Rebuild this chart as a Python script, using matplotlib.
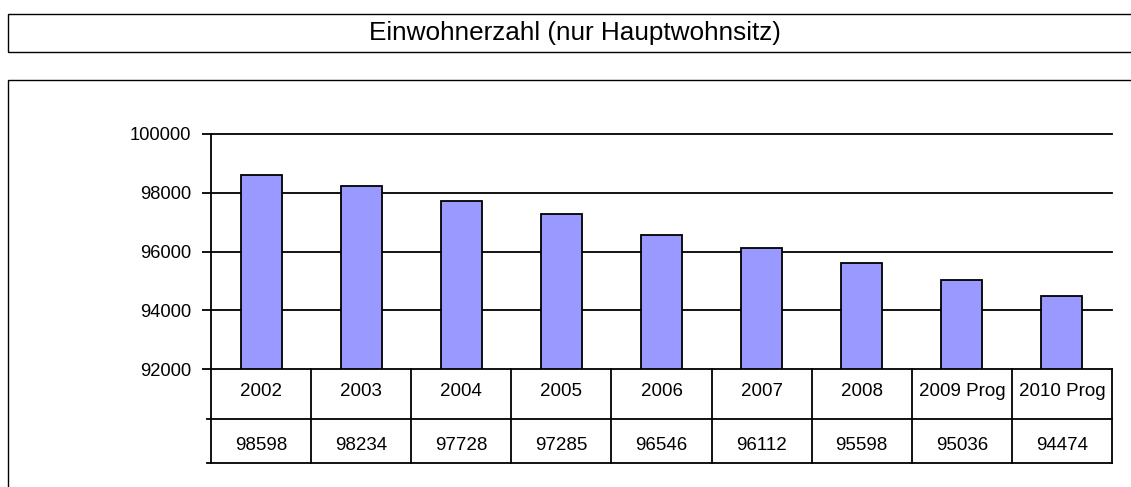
import matplotlib
matplotlib.use("Agg")
import matplotlib.pyplot as plt
from matplotlib.patches import Rectangle

plt.rcParams["font.family"] = ["Liberation Sans", "DejaVu Sans"]

# data
years = ["2002", "2003", "2004", "2005", "2006", "2007", "2008",
         "2009 Prog", "2010 Prog"]
einwohner = [98598, 98234, 97728, 97285, 96546, 96112, 95598, 95036, 94474]
yticks = [92000, 94000, 96000, 98000, 100000]
title = "Einwohnerzahl (nur Hauptwohnsitz)"

W, H = 1131, 487
fig = plt.figure(figsize=(W / 100, H / 100), dpi=100)

# frames (title box + chart box), right/bottom edges run off the picture
fig.add_artist(Rectangle((8 / W, 1 - 52 / H), 1.2, 38 / H, transform=fig.transFigure,
                         fill=False, ec="black", lw=1.0))
fig.add_artist(Rectangle((8 / W, -0.2), 1.2, 1 - 80 / H + 0.2, transform=fig.transFigure,
                         fill=False, ec="black", lw=1.0))
fig.text(575 / W, 1 - 33 / H, title, ha="center", va="center", fontsize=18.8)

# bar chart
left, right = 211 / W, 1112 / W
ax = fig.add_axes([left, 1 - 369 / H, right - left, (369 - 134) / H])
x = range(len(years))
ax.bar(x, [v - yticks[0] for v in einwohner], bottom=yticks[0], width=0.41,
       color="#9999FF", edgecolor="black", linewidth=1.3, zorder=3)
ax.set_xlim(-0.5, len(years) - 0.5)
ax.set_ylim(yticks[0], yticks[-1])
ax.set_yticks(yticks)
ax.set_yticklabels([str(t) for t in yticks])
ax.set_xticks([])
for t in yticks[1:]:
    ax.axhline(t, color="black", lw=1.3, zorder=1, clip_on=False)
for s in ["top", "right"]:
    ax.spines[s].set_visible(False)
ax.spines["left"].set_linewidth(1.3)
ax.spines["bottom"].set_linewidth(1.3)
ax.tick_params(axis="y", length=6.5, width=1.3, pad=8.0, labelsize=13.2)

# data table below
axt = fig.add_axes([left, 1 - 463 / H, right - left, 94 / H])
axt.set_xlim(-0.5, len(years) - 0.5)
axt.set_ylim(94, 0)
axt.axis("off")
n = len(years)
for yy in [50, 94]:
    axt.plot([-0.54, n - 0.5], [yy, yy], color="black", lw=1.3, clip_on=False)
for i in range(n + 1):
    axt.plot([i - 0.5, i - 0.5], [0, 94], color="black", lw=1.3, clip_on=False)
for i, (yr, v) in enumerate(zip(years, einwohner)):
    axt.text(i, 23, yr, ha="center", va="center", fontsize=13.5)
    axt.text(i, 77, str(v), ha="center", va="center", fontsize=13.5)

fig.savefig("out.png", dpi=100)
